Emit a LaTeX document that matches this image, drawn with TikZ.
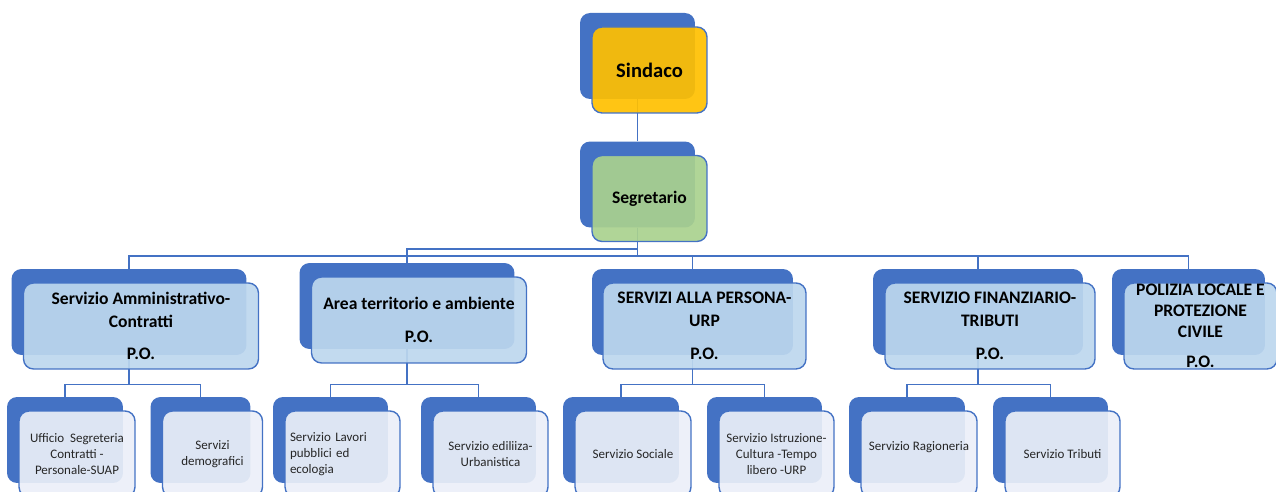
\documentclass[tikz,border=0pt]{standalone}
\usepackage{fontspec}
\setmainfont{Carlito}

\definecolor{boxblue}{HTML}{4472C4}
\definecolor{gold}{HTML}{FFC000}
\definecolor{sage}{HTML}{A9D18E}
\definecolor{paleblue}{HTML}{BDD7EE}
\definecolor{mist}{HTML}{EBEFF8}

\tikzset{
  backcard/.style={rectangle, rounded corners=0.2cm, fill=boxblue, minimum height=1.72cm},
  frontcard/.style={rectangle, rounded corners=0.2cm, draw=boxblue, line width=0.8pt,
    fill opacity=0.92, text opacity=1, minimum height=1.72cm, inner sep=0pt,
    align=center, shift={(12,14)}},
  areacard/.style={frontcard, fill=paleblue, font=\bfseries\fontsize{10}{13}\selectfont},
  officecard/.style={frontcard, fill=mist, text=black!85, font=\fontsize{7.4}{9}\selectfont},
  wire/.style={draw=boxblue, line width=0.8pt}
}

\begin{document}
\begin{tikzpicture}[x=0.02cm, y=-0.02cm]

\path[use as bounding box, clip] (0,0) rectangle (1276,492);

\node[backcard, minimum width=2.3cm] (sindacoB) at (637.5,56) {};
\node[backcard, minimum width=2.3cm] (segrB) at (637.5,184.5) {};

\node[backcard, minimum width=4.7cm] (ammB) at (129,312) {};
\node[backcard, minimum width=4.3cm] (areaB) at (407,306) {};
\node[backcard, minimum width=4.02cm] (persB) at (692.5,312) {};
\node[backcard, minimum width=4.2cm] (finB) at (978,312) {};
\node[backcard, minimum width=3.06cm] (polB) at (1188.5,312) {};

\node[backcard, minimum width=2.32cm] (uffB) at (65,440) {};
\node[backcard, minimum width=2cm] (demB) at (200.5,440) {};
\node[backcard, minimum width=2.3cm] (lavB) at (330.5,440) {};
\node[backcard, minimum width=2.3cm] (ediB) at (478.5,440) {};
\node[backcard, minimum width=2.32cm] (socB) at (621,440) {};
\node[backcard, minimum width=2.3cm] (istB) at (764.5,440) {};
\node[backcard, minimum width=2.32cm] (ragB) at (907,440) {};
\node[backcard, minimum width=2.3cm] (tribB) at (1050.5,440) {};


\draw[wire] (sindacoB.south) -- (segrB.north);
\draw[wire] (segrB.south) -- ++(0,21) -| (areaB.north);
\draw[wire] (segrB.south) -- ++(0,28) -| (ammB.north);
\draw[wire] (segrB.south) -- ++(0,28) -| (persB.north);
\draw[wire] (segrB.south) -- ++(0,28) -| (finB.north);
\draw[wire] (segrB.south) -- ++(0,28) -| (polB.north);

\draw[wire] (ammB.south) -- ++(0,29) -| (uffB.north);
\draw[wire] (ammB.south) -- ++(0,29) -| (demB.north);
\draw[wire] (areaB.south) -- ++(0,35) -| (lavB.north);
\draw[wire] (areaB.south) -- ++(0,35) -| (ediB.north);
\draw[wire] (persB.south) -- ++(0,29) -| (socB.north);
\draw[wire] (persB.south) -- ++(0,29) -| (istB.north);
\draw[wire] (finB.south) -- ++(0,29) -| (ragB.north);
\draw[wire] (finB.south) -- ++(0,29) -| (tribB.north);


\node[frontcard, fill=gold, minimum width=2.3cm, font=\bfseries\fontsize{11.7}{14}\selectfont] (sindaco) at (sindacoB) {Sindaco};
\node[frontcard, fill=sage, minimum width=2.3cm, font=\bfseries\fontsize{10}{12}\selectfont] (segr) at (segrB) {Segretario};

\node[areacard, minimum width=4.7cm] (amm) at (ammB) {Servizio Amministrativo-\\Contratti\\[0.2cm]P.O.};
\node[areacard, minimum width=4.3cm] (area) at (areaB) {Area territorio e ambiente\\[0.2cm]P.O.};
\node[areacard, minimum width=4.06cm] (pers) at (persB) {SERVIZI ALLA PERSONA-\\URP\\[0.2cm]P.O.};
\node[areacard, minimum width=4.2cm] (fin) at (finB) {SERVIZIO FINANZIARIO-\\TRIBUTI\\[0.2cm]P.O.};
\node[areacard, minimum width=3.06cm, font=\bfseries\fontsize{10}{11.8}\selectfont] (pol) at (polB) {POLIZIA LOCALE E\\PROTEZIONE\\CIVILE\\[0.2cm]P.O.};

\node[officecard, minimum width=2.32cm] (uff) at (uffB) {Ufficio~ Segreteria\\Contratti -\\Personale-SUAP};
\node[officecard, minimum width=2cm] (dem) at (demB) {Servizi\\demografici};
\node[officecard, minimum width=2.3cm, align=left, text width=2.1cm] (lav) at (lavB) {Servizio Lavori\\pubblici ed\\ecologia};
\node[officecard, minimum width=2.3cm] (edi) at (ediB) {Servizio ediliiza-\\Urbanistica};
\node[officecard, minimum width=2.32cm] (soc) at (socB) {Servizio Sociale};
\node[officecard, minimum width=2.3cm] (ist) at (istB) {Servizio Istruzione-\\Cultura -Tempo\\libero -URP};
\node[officecard, minimum width=2.32cm] (rag) at (ragB) {Servizio Ragioneria\\\mbox{}};
\node[officecard, minimum width=2.3cm] (trib) at (tribB) {Servizio Tributi};

\end{tikzpicture}
\end{document}
